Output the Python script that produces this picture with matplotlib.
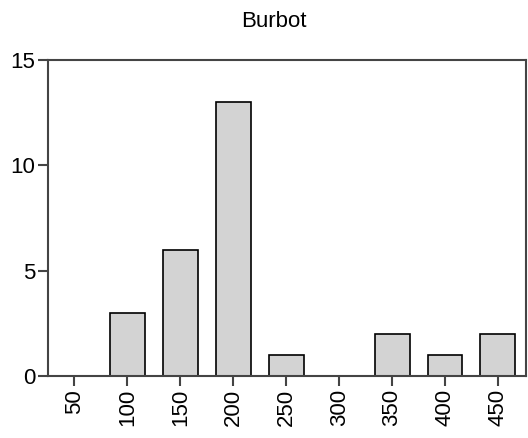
import matplotlib
matplotlib.use("Agg")
import matplotlib.pyplot as plt

categories = ["50", "100", "150", "200", "250", "300", "350", "400", "450"]
counts = [0, 3, 6, 13, 1, 0, 2, 1, 2]
yticks = [0, 5, 10, 15]

plt.rcParams['font.family'] = ['Liberation Sans', 'DejaVu Sans']
dpi = 100
W, H = 528, 438
fig = plt.figure(figsize=(W / dpi, H / dpi), dpi=dpi)
ax = fig.add_axes([48/W, 1 - 376/H, (526-48)/W, (376-60)/H])

x = list(range(len(categories)))
bars = ax.bar(x, counts, width=0.66, color='#d3d3d3', edgecolor='black', linewidth=1.2, zorder=3)
for b, c in zip(bars, counts):
    if c == 0:
        b.set_visible(False)
ax.set_xlim(-0.5, 8.53)
ax.set_ylim(0, 15)
ax.set_xticks(x)
ax.set_xticklabels(categories, rotation=90, fontsize=16)
ax.set_yticks(yticks)
ax.set_yticklabels([str(v) for v in yticks], fontsize=16)
for s in ax.spines.values():
    s.set_color('#444444')
    s.set_linewidth(1.5)
    s.set_zorder(4)
ax.tick_params(axis='both', colors='#444444', labelcolor='black', length=7.2, width=1.5, direction='out', pad=2)
fig.text(273.5/W, 1 - 27/H, "Burbot", fontsize=16, ha='center', va='baseline')
fig.savefig("out.png", dpi=dpi)
